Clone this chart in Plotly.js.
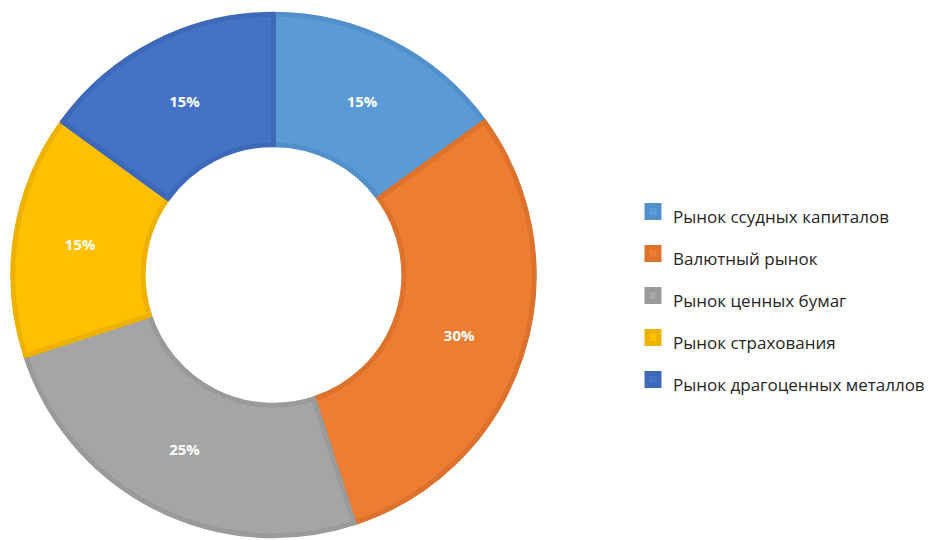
<!DOCTYPE html>
<html>
<head>
<meta charset="utf-8">
<script src="https://cdn.plot.ly/plotly-3.0.1.min.js"></script>
<style>html,body{margin:0;padding:0;background:#fff;}#chart{width:930px;height:540px;}</style>
</head>
<body>
<div id="chart"></div>
<script>
const categories = ["Рынок ссудных капиталов", "Валютный рынок", "Рынок ценных бумаг", "Рынок страхования", "Рынок драгоценных металлов"];
const shares = [15, 30, 25, 15, 15];
const fillColors = ["#5B9BD5", "#ED7D31", "#A5A5A5", "#FFC000", "#4472C4"];
const edgeColors = ["#5290CB", "#DC722C", "#9A9A9A", "#EDB200", "#3E68B8"];

const trace = {
  type: "pie",
  labels: categories.map(c => '<span style="font-size:17px">' + c + '</span>'),
  values: shares,
  hole: 0.5,
  sort: false,
  direction: "clockwise",
  rotation: 0,
  marker: {colors: fillColors, line: {color: edgeColors, width: 5}},
  texttemplate: "%{value}%",
  textposition: "inside",
  insidetextorientation: "horizontal",
  textfont: {family: "Open Sans, sans-serif", size: 15, color: "#ffffff", weight: "bold"},
  domain: {x: [0.01398, 0.5838], y: [0.0, 0.9815]},
  hoverinfo: "none"
};

const layout = {
  width: 930, height: 540,
  margin: {l: 0, r: 0, t: 0, b: 0},
  paper_bgcolor: "#ffffff",
  showlegend: true,
  legend: {
    x: 0.692, y: 0.453, xanchor: "left", yanchor: "middle",
    font: {family: "Open Sans, sans-serif", size: 30, color: "#262626"},
    itemwidth: 30,
    traceorder: "normal"
  }
};

Plotly.newPlot("chart", [trace], layout, {displayModeBar: false, staticPlot: true});
</script>
</body>
</html>
